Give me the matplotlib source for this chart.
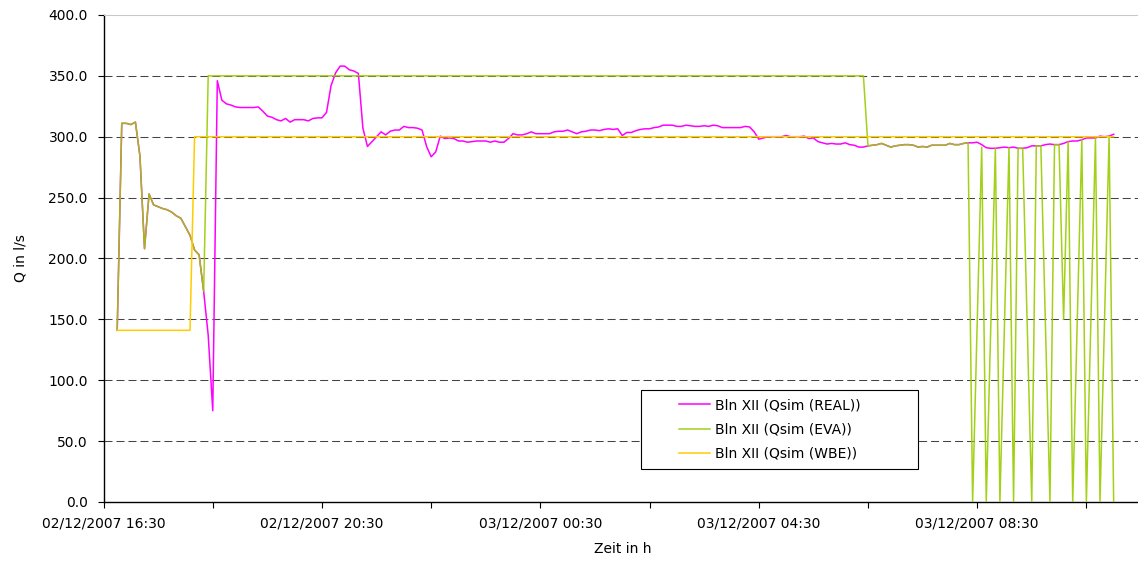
import matplotlib
matplotlib.use("Agg")
import matplotlib.pyplot as plt
import matplotlib.dates as mdates
from matplotlib.patches import Rectangle
from matplotlib.ticker import FormatStrFormatter
import pandas as pd

# 5-minute steps starting 02/12/2007 16:45
start = "2007-12-02 16:45"
n_steps = 220

real = [
    141, 311, 311, 310, 312, 284, 208, 253, 244, 242.5,
    241, 240, 238, 235, 233, 226, 219, 207, 203, 173,
    137, 75, 346, 330, 327, 326, 324.5, 324, 324, 324,
    324, 324.5, 321, 317, 316, 314, 313, 315, 312, 314,
    314, 314, 313, 315, 315.5, 315.5, 320, 342, 352.5, 358,
    358, 355, 354, 352, 307, 292, 296, 300, 304, 301.5,
    304.5, 305.5, 305.5, 308.5, 307.5, 307.5, 307, 305.5, 292, 283.5,
    287.5, 300.5, 298.5, 299, 298.5, 296.5, 296.5, 295.5, 296, 296.5,
    296.5, 296.5, 295.5, 296.5, 295.5, 295.5, 298.5, 302.5, 301.5, 301.5,
    302.5, 304, 302.5, 302.5, 302.5, 302.5, 304, 304.5, 304.5, 305.5,
    304, 302.5, 304, 304.5, 305.5, 305.5, 305, 306, 306.5, 306,
    306.5, 301, 303.5, 303.5, 305, 306, 306.5, 306.5, 307.5, 308,
    309.5, 309.5, 309.5, 308.5, 308.5, 309.5, 309, 308.5, 308.5, 309,
    308.5, 309.5, 309, 307.5, 307.5, 307.5, 307.5, 307.5, 308.5, 308,
    304, 298, 299, 300, 300, 300, 300, 301, 300, 300,
    300, 300.5, 298.5, 299, 296, 295, 294, 294.5, 294, 294,
    295, 293.5, 293, 291.5, 291.5, 292.5, 293, 293.5, 294.5, 293,
    291.5, 292.5, 293, 293.5, 293.5, 293, 291.5, 292, 291.5, 293,
    293, 293, 293, 294.5, 293.5, 293.5, 294.5, 295, 295, 295.5,
    293.5, 291, 290.5, 290.5, 291, 291.5, 291, 291.5, 290.5, 290.5,
    291, 292.5, 292.5, 292.5, 293.5, 294, 293.5, 293.5, 294.5, 296,
    296.5, 296.5, 297.5, 299, 299, 299, 300.5, 300, 300.5, 302,
]

# EVA only changes at some steps: step numbers and their values
eva_steps = list(range(0, 21)) + [164] + list(range(165, 189)) + [
    190, 191, 193, 194, 196, 197, 198, 199, 201, 202, 203, 205,
    206, 207, 208, 209, 210, 212, 213, 215, 216, 218, 219,
]
eva = [
    141, 311, 311, 310, 312, 284, 208, 253, 244, 242.5,
    241, 240, 238, 235, 233, 226, 219, 207, 203, 173,
    350, 350,
    292.5, 293, 293.5, 294.5, 293, 291.5, 292.5, 293, 293.5, 293.5,
    293, 291.5, 292, 291.5, 293, 293, 293, 293, 294.5, 293.5,
    293.5, 294.5, 295, 0,
    291.5, 0, 290.5, 0, 291, 0, 290.5, 290.5, 0, 292.5, 292.5, 0,
    293.5, 293.5, 150, 296, 0, 297.5, 0, 299, 0, 300.5, 0,
]

wbe_steps = [0, 16, 17, 219]
wbe = [141, 141, 300, 300]

labels = ["Bln XII (Qsim (REAL))", "Bln XII (Qsim (EVA))", "Bln XII (Qsim (WBE))"]
colors = ["#ff00ff", "#99cc00", "#ffcc00"]
y_ticks = [0, 50, 100, 150, 200, 250, 300, 350, 400]

times = pd.date_range(start, periods=n_steps, freq="5min")

fig = plt.figure(figsize=(11.38, 5.61), dpi=100)
ax = fig.add_axes([0.091, 0.1052, 0.9116, 0.8681])

h_real, = ax.plot(times, real, color=colors[0], lw=1.1, zorder=3)
h_eva, = ax.plot(times[eva_steps], eva, color=colors[1], lw=1.1, alpha=0.9, zorder=4)
h_wbe, = ax.plot(times[wbe_steps], wbe, color=colors[2], lw=1.1, zorder=5)

for y in y_ticks[1:-1]:
    ax.axhline(y, color="#444444", lw=0.75, ls=(0, (7.7, 3.8)), zorder=1)

ax.set_ylim(0, 400)
ax.set_yticks(y_ticks)
ax.yaxis.set_major_formatter(FormatStrFormatter("%.1f"))

ax.set_xlim(pd.Timestamp("2007-12-02 16:30"), pd.Timestamp("2007-12-03 11:30"))
ax.set_xticks(pd.date_range("2007-12-02 16:30", periods=5, freq="4h"))
ax.set_xticks(pd.date_range("2007-12-02 18:30", periods=5, freq="4h"), minor=True)
ax.xaxis.set_major_formatter(mdates.DateFormatter("%d/%m/%Y %H:%M"))

ax.spines["right"].set_visible(False)
ax.spines["top"].set_color("#c8c8c8")
ax.spines["top"].set_linewidth(0.75)
for side in ["left", "bottom"]:
    ax.spines[side].set_linewidth(1.0)

ax.tick_params(axis="both", which="both", direction="out", length=4.3, width=0.8,
               labelsize=10, colors="black")
ax.tick_params(axis="y", pad=7)
ax.tick_params(axis="x", pad=6)

ax.set_xlabel("Zeit in h", fontsize=10, va="top")
ax.xaxis.set_label_coords(0.5, -0.082)
ax.set_ylabel("Q in l/s", fontsize=10)
ax.yaxis.set_label_coords(-0.073, 0.5)

fig.add_artist(Rectangle((641 / 1138, 92 / 561), 277 / 1138, 79 / 561,
                         transform=fig.transFigure, fc="white", ec="black",
                         lw=0.8, zorder=3))
fig.legend([h_real, h_eva, h_wbe], labels, loc="center left",
           bbox_to_anchor=(672 / 1138, 0.2344), frameon=False, fontsize=10,
           handlelength=2.2, handletextpad=0.4, labelspacing=0.75, borderpad=0)

fig.savefig("out.png", dpi=100)
